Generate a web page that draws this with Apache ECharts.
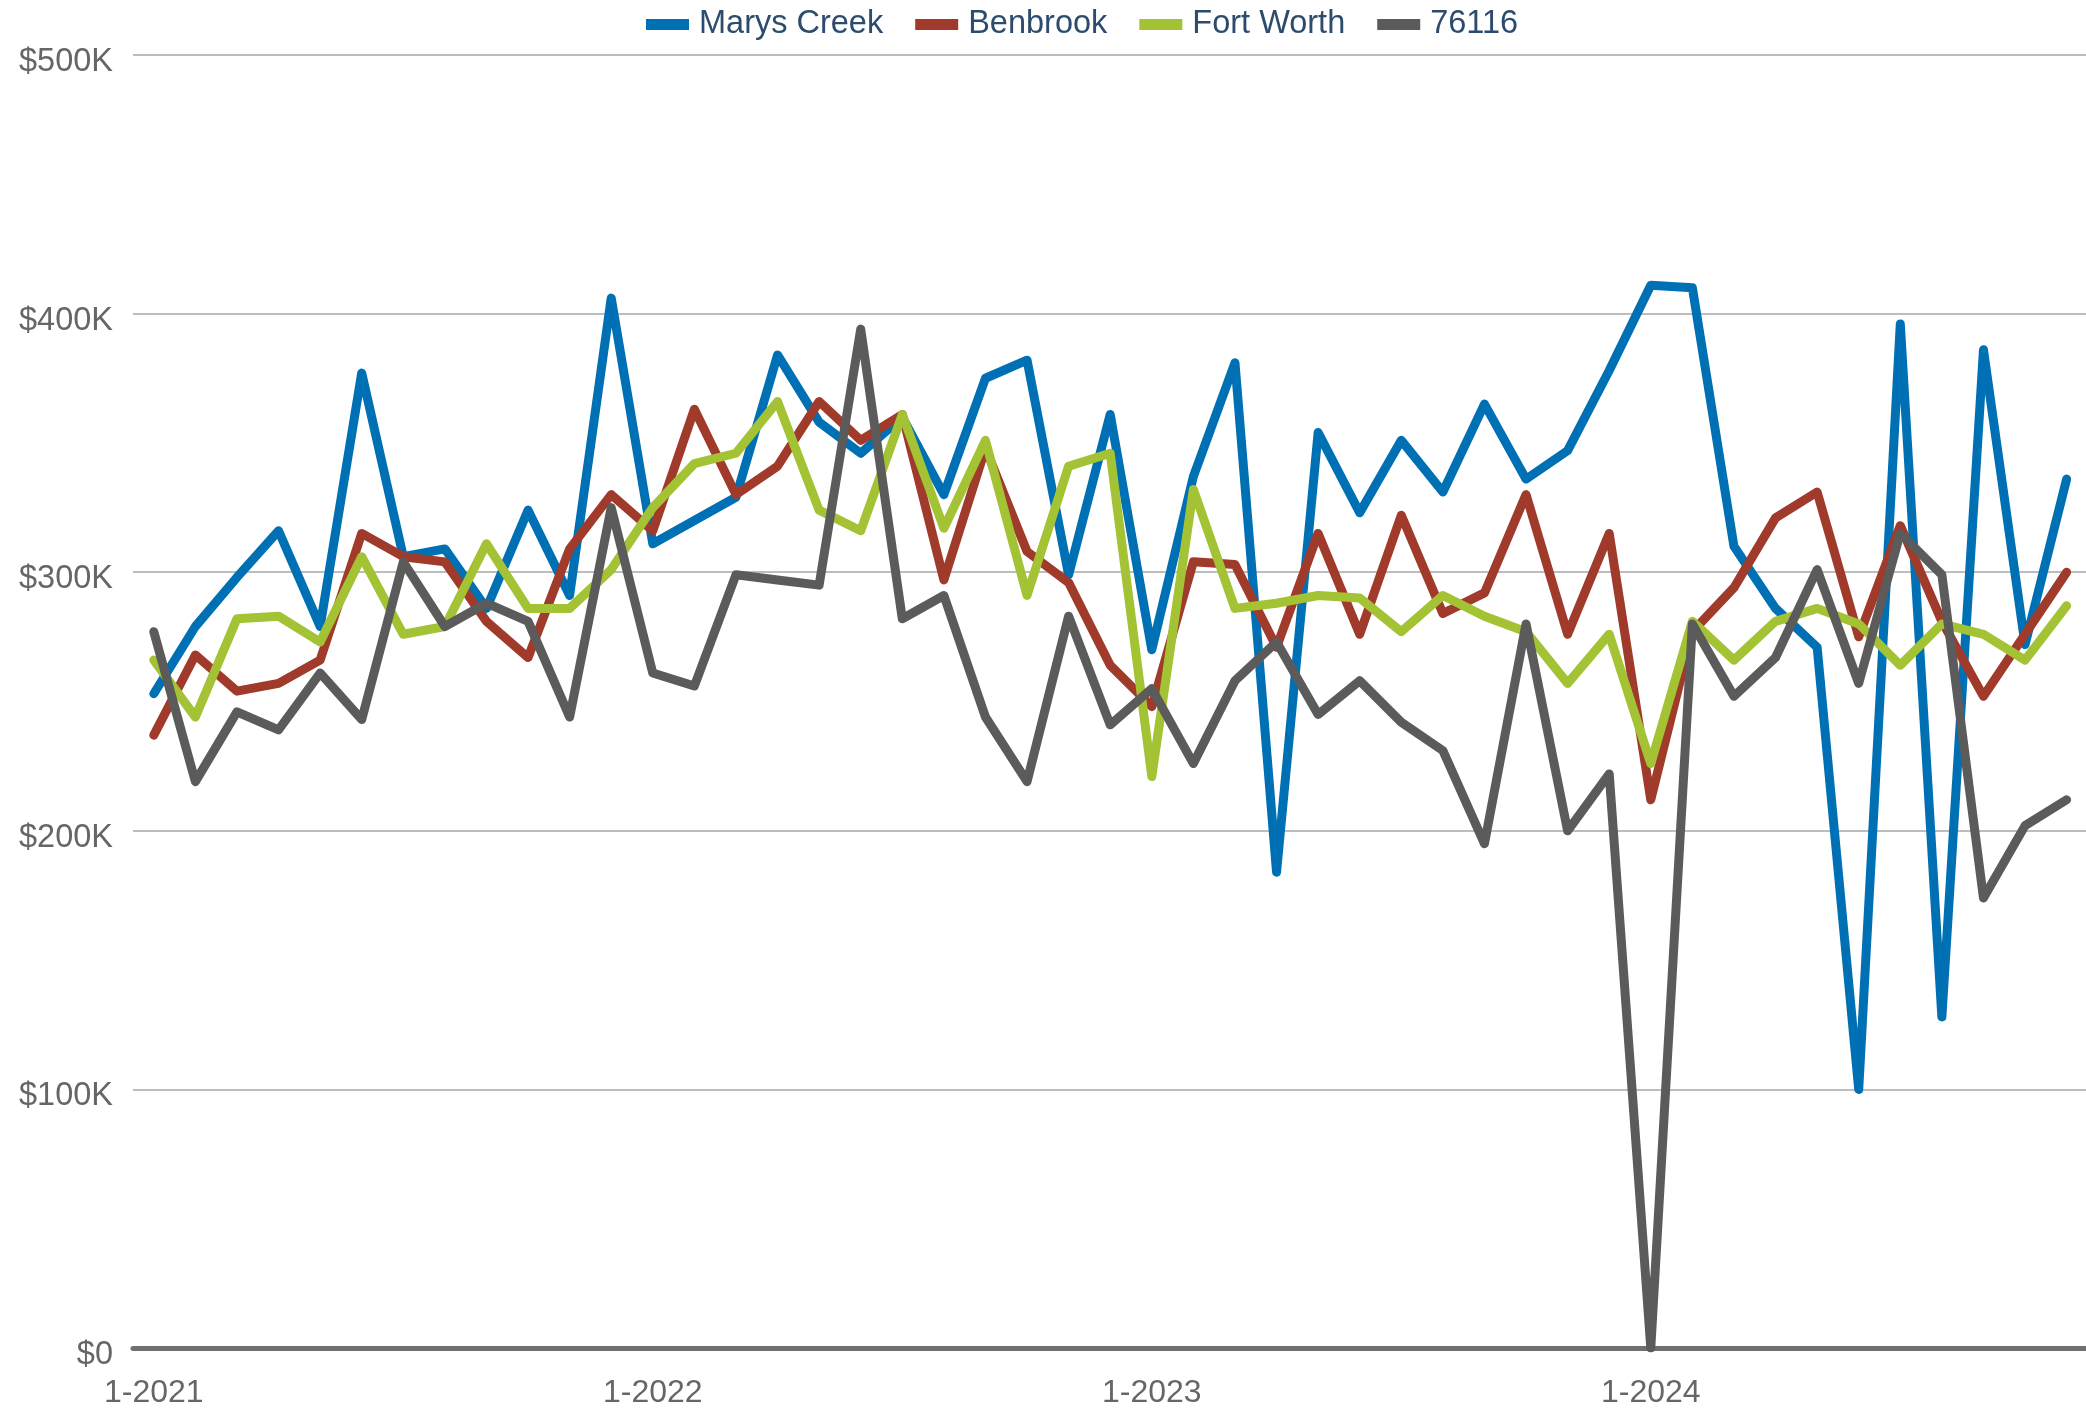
<!DOCTYPE html>
<html>
<head>
<meta charset="utf-8">
<script src="https://cdn.jsdelivr.net/npm/echarts@6/dist/echarts.min.js"></script>
<style>
	html, body { margin: 0; padding: 0; background: #fff; }
	#chart { width: 2086px; height: 1411px; }
</style>
</head>
<body>
<div id="chart"></div>
<script>
'use strict';

// months 1-2021 .. 12-2024, data runs to 11-2024
var years = [2021, 2022, 2023, 2024];
var months = [];
for (var y = 0; y < years.length; y++) {
	for (var m = 1; m <= 12; m++) {
		months.push(m + '-' + years[y]);
	}
}

var seriesNames = ['Marys Creek', 'Benbrook', 'Fort Worth', '76116'];
var seriesColors = ['#0070b5', '#a03a2a', '#a3c234', '#5b5b5b'];

var marysCreek = [
	253000, 279000, 298000, 316000, 279000, 377000, 306000, 309000, 286000, 324000, 291000, 406000,
	311000, 320000, 329000, 384000, 358000, 346000, 360000, 330000, 375000, 382000, 299000, 361000,
	270000, 337000, 381000, 184000, 354000, 323000, 351000, 331000, 365000, 336000, 347000, 378000,
	411000, 410000, 310000, 286000, 271000, 100000, 396000, 128000, 386000, 272000, 336000
];
var benbrook = [
	237000, 268000, 254000, 257000, 266000, 315000, 306000, 304000, 281000, 267000, 309000, 330000,
	316000, 363000, 330000, 341000, 366000, 351000, 361000, 297000, 348000, 308000, 296000, 264000,
	248000, 304000, 303000, 271000, 315000, 276000, 322000, 284000, 292000, 330000, 276000, 315000,
	212000, 277000, 294000, 321000, 331000, 275000, 318000, 281000, 252000, 276000, 300000
];
var fortWorth = [
	266000, 244000, 282000, 283000, 273000, 306000, 276000, 279000, 311000, 286000, 286000, 301000,
	325000, 342000, 346000, 366000, 324000, 316000, 361000, 317000, 351000, 291000, 341000, 346000,
	221000, 332000, 286000, 288000, 291000, 290000, 277000, 291000, 283000, 277000, 257000, 276000,
	226000, 281000, 266000, 281000, 286000, 280000, 264000, 280000, 276000, 266000, 287000
];
var zip76116 = [
	277000, 219000, 246000, 239000, 261000, 243000, 304000, 279000, 288000, 281000, 244000, 325000,
	261000, 256000, 299000, 297000, 295000, 394000, 282000, 291000, 244000, 219000, 283000, 241000,
	255000, 226000, 258000, 273000, 245000, 258000, 242000, 231000, 195000, 280000, 200000, 222000,
	0, 280000, 252000, 267000, 301000, 257000, 315000, 299000, 174000, 202000, 212000
];

var yTicks = [0, 100000, 200000, 300000, 400000, 500000];

var myChart = echarts.init(document.getElementById('chart'));

var allData = [marysCreek, benbrook, fortWorth, zip76116];
var series = [];
for (var i = 0; i < seriesNames.length; i++) {
	series.push({
		name: seriesNames[i],
		type: 'line',
		data: allData[i],
		showSymbol: false,
		symbol: 'none',
		lineStyle: {
			width: 9,
			color: seriesColors[i],
			cap: 'round',
			join: 'round'
		},
		itemStyle: { color: seriesColors[i] }
	});
}

myChart.setOption({
	animation: false,
	textStyle: { fontFamily: 'Liberation Sans, Arial, sans-serif' },
	legend: {
		data: seriesNames,
		left: 641,
		top: 3,
		icon: 'rect',
		itemWidth: 43,
		itemHeight: 11,
		itemGap: 32,
		textStyle: {
			fontSize: 32.5,
			color: '#2d4c6d',
			padding: [0, 0, 0, 5]
		}
	},
	grid: {
		left: 133,
		right: -43,
		top: 55,
		bottom: 63,
		containLabel: false,
		outerBoundsMode: 'none'
	},
	xAxis: {
		type: 'category',
		data: months,
		boundaryGap: true,
		axisLine: { lineStyle: { color: '#707070', width: 5 } },
		axisTick: {
			alignWithLabel: true,
			interval: 11,
			length: 13,
			lineStyle: { color: '#707070', width: 5 }
		},
		axisLabel: {
			interval: 11,
			fontSize: 32,
			color: '#666',
			margin: 29
		},
		splitLine: { show: false }
	},
	yAxis: {
		type: 'value',
		min: yTicks[0],
		max: yTicks[yTicks.length - 1],
		interval: 100000,
		axisLine: { show: false },
		axisTick: { show: false },
		axisLabel: {
			fontSize: 32.5,
			color: '#666',
			margin: 20,
			verticalAlign: 'top',
			lineHeight: 14,
			formatter: function (v) {
				return v === 0 ? '$0' : '$' + (v / 1000) + 'K';
			}
		},
		splitLine: { lineStyle: { color: '#bdbdbd', width: 2 } }
	},
	series: series
});
</script>
</body>
</html>
